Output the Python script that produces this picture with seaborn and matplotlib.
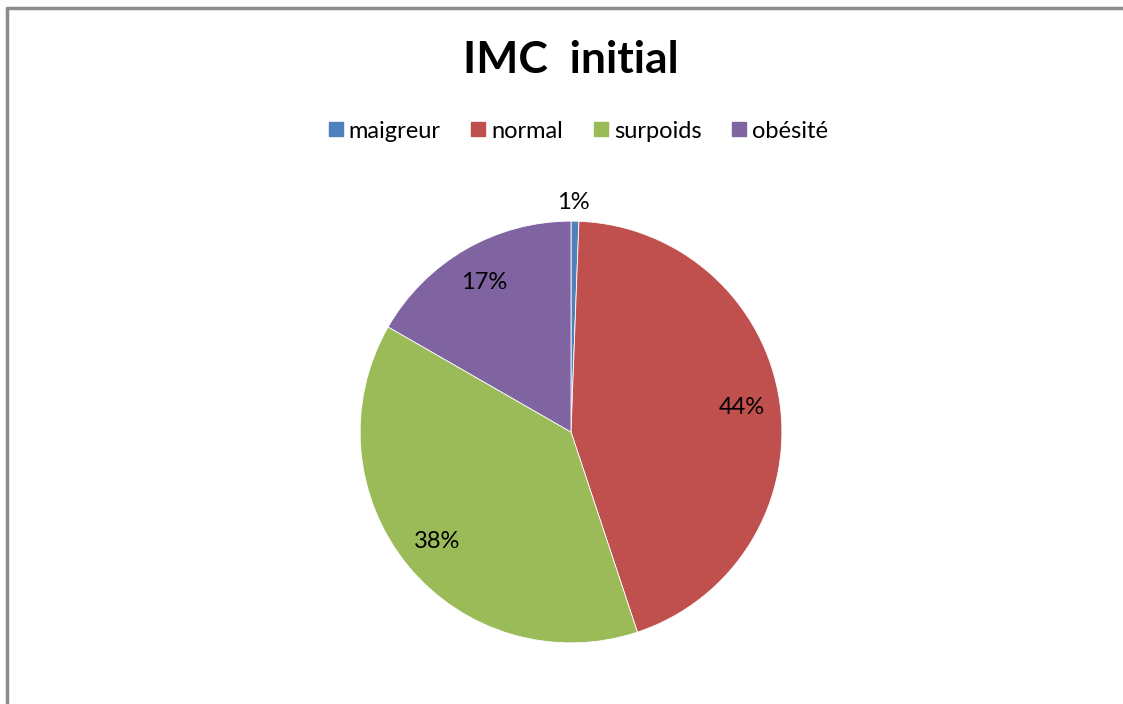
import matplotlib
matplotlib.use('Agg')
import matplotlib.pyplot as plt
from matplotlib.lines import Line2D
import seaborn as sns

# ── Data ─────────────────────────────────────
categories = ['maigreur', 'normal', 'surpoids', 'obésité']
shares     = [0.6, 44.3, 38.4, 16.7]
palette    = sns.color_palette(['#4F81BD', '#C0504D', '#9BBB59', '#8064A2'])

sns.set_theme(style='white')
plt.rcParams['font.family'] = ['Lato', 'DejaVu Sans']
plt.rcParams['text.color'] = 'black'

W, H = 1123, 704
fig = plt.figure(figsize=(W / 100, H / 100), dpi=100)
fig.patch.set_facecolor('white')

# chart frame (left and top edges visible)
frame = dict(color='#8C8C8C', lw=2.5, transform=fig.transFigure)
fig.add_artist(Line2D([7 / W, 7 / W], [0, 1 - 8 / H], **frame))
fig.add_artist(Line2D([7 / W, 1], [1 - 8 / H, 1 - 8 / H], **frame))

# ── Pie ──────────────────────────────────────
cx, cy, r = 571, 432, 213
ax = fig.add_axes([(cx - r) / W, (H - cy - r) / H, 2 * r / W, 2 * r / H])
wedges, texts, autotexts = ax.pie(
    shares, colors=palette, startangle=90, counterclock=False,
    autopct='%.0f%%', pctdistance=0.82,
    wedgeprops={'edgecolor': 'white', 'linewidth': 0.6},
    textprops={'fontsize': 17, 'color': 'black'})
# smallest slice label sits outside the pie
autotexts[0].set_position((0.01, 1.09))
ax.set_xlim(-1.01, 1.01)
ax.set_ylim(-1.01, 1.01)
ax.set_aspect('equal')
ax.axis('off')

# ── Title & legend ───────────────────────────
fig.text(571 / W, 1 - 60 / H, 'IMC  initial', ha='center', va='center',
         fontsize=32, fontweight='bold', color='black')
handles = [Line2D([], [], marker='s', ls='', markersize=10, color=c)
           for c in palette]
fig.legend(handles, categories, loc='center', bbox_to_anchor=(576 / W, 1 - 131 / H),
           ncol=4, frameon=False, fontsize=17, handletextpad=0.05,
           columnspacing=1.1, handlelength=1.0, labelcolor='black')

plt.savefig('out.png', dpi=100)
plt.close()
